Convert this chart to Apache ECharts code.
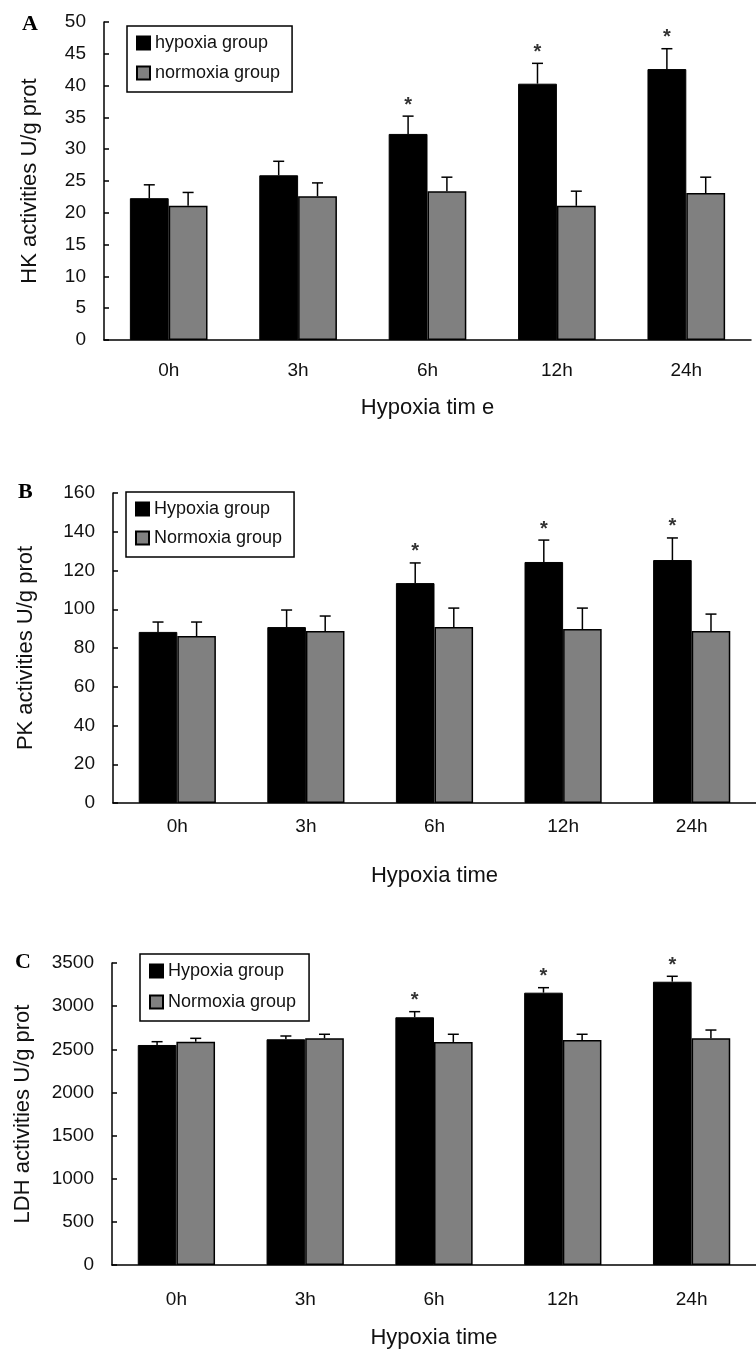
<!DOCTYPE html>
<html>
<head>
<meta charset="utf-8">
<script src="https://cdn.jsdelivr.net/npm/echarts@6/dist/echarts.min.js"></script>
<style>
html,body{margin:0;padding:0;background:#fff;}
#chart{width:756px;height:1353px;}
</style>
</head>
<body>
<div id="chart"></div>
<script>
// ---- data ----
var categories = ['0h', '3h', '6h', '12h', '24h'];
var significance = [0, 0, 1, 1, 1];

var hkHypoxia = [22.3, 25.9, 32.4, 40.3, 42.6];
var hkHypoxiaErr = [2.1, 2.2, 2.8, 3.2, 3.2];
var hkNormoxia = [21.1, 22.6, 23.4, 21.1, 23.1];
var hkNormoxiaErr = [2.1, 2.1, 2.2, 2.3, 2.5];

var pkHypoxia = [88.3, 90.8, 113.5, 124.4, 125.4];
var pkHypoxiaErr = [5.1, 8.8, 10.4, 11.3, 11.4];
var pkNormoxia = [86.2, 88.8, 90.8, 89.8, 88.8];
var pkNormoxiaErr = [7.2, 7.7, 9.8, 10.8, 8.7];

var ldhHypoxia = [2550, 2616, 2871, 3156, 3283];
var ldhHypoxiaErr = [38, 38, 65, 58, 63];
var ldhNormoxia = [2588, 2627, 2585, 2608, 2627];
var ldhNormoxiaErr = [39, 47, 89, 66, 96];

var yTicksA = {min: 0, max: 50, interval: 5};
var yTicksB = {min: 0, max: 160, interval: 20};
var yTicksC = {min: 0, max: 3500, interval: 500};

// ---- styling ----
var FONT = "'Liberation Sans', Arial, sans-serif";
var CAT_GAP = 0.40;

function errData(vals, errs, withSig) {
  return vals.map(function (v, i) { return [i, v, errs[i], withSig ? significance[i] : 0]; });
}

function errRender(sign) {
  return function (params, api) {
    var idx = api.value(0), v = api.value(1), e = api.value(2), sig = api.value(3);
    var band = api.size([1, 0])[0];
    var bw = band * (1 - CAT_GAP) / 2;
    var base = api.coord([idx, v]);
    var top = api.coord([idx, v + e]);
    var x = base[0] + sign * bw / 2;
    var children = [
      {type: 'line', shape: {x1: x, y1: base[1], x2: x, y2: top[1]}, style: {stroke: '#000', lineWidth: 1.5}},
      {type: 'line', shape: {x1: x - 5.5, y1: top[1], x2: x + 5.5, y2: top[1]}, style: {stroke: '#000', lineWidth: 1.5}}
    ];
    if (sig) {
      children.push({type: 'text', style: {text: '*', x: x, y: top[1] - 1, align: 'center', verticalAlign: 'bottom',
        font: 'bold 20px ' + FONT, fill: '#333'}});
    }
    return {type: 'group', children: children};
  };
}

function xAxisCfg(gridIndex, labelMargin, nameGap) {
  return {
    type: 'category', gridIndex: gridIndex, data: categories,
    name: gridIndex === 0 ? 'Hypoxia tim e' : 'Hypoxia time',
    nameLocation: 'middle', nameGap: nameGap,
    nameTextStyle: {fontSize: 22, color: '#111', fontFamily: FONT},
    axisLine: {lineStyle: {color: '#000', width: 1.5}},
    axisTick: {inside: true, length: 5, lineStyle: {color: '#000', width: 1.5}},
    axisLabel: {margin: labelMargin, fontSize: 19, color: '#111', fontFamily: FONT},
    splitLine: {show: false}
  };
}

function yAxisCfg(gridIndex, ticks, name, nameGap) {
  return {
    type: 'value', gridIndex: gridIndex, min: ticks.min, max: ticks.max, interval: ticks.interval,
    name: name, nameLocation: 'middle', nameGap: nameGap,
    nameTextStyle: {fontSize: 22, color: '#111', fontFamily: FONT},
    axisLine: {show: true, lineStyle: {color: '#000', width: 1.5}},
    axisTick: {show: true, inside: true, length: 5, lineStyle: {color: '#000', width: 1.5}},
    axisLabel: {margin: 18, fontSize: 19, color: '#111', fontFamily: FONT,
      formatter: function (v) { return String(v); }},
    splitLine: {show: false}
  };
}

function barSeries(name, gi, vals, hyp) {
  return {
    type: 'bar', name: name, xAxisIndex: gi, yAxisIndex: gi, data: vals,
    barGap: '0%', barCategoryGap: (CAT_GAP * 100) + '%',
    itemStyle: hyp ? {color: '#000', borderColor: '#000', borderWidth: 1}
                   : {color: '#808080', borderColor: '#000', borderWidth: 1.5},
    emphasis: {disabled: true}, animation: false
  };
}

function errSeries(gi, vals, errs, sign, withSig) {
  return {
    type: 'custom', xAxisIndex: gi, yAxisIndex: gi, data: errData(vals, errs, withSig),
    renderItem: errRender(sign), z: 5, silent: true, animation: false
  };
}

function legendCfg(names, left, top, padRight, gap) {
  return {
    data: names, orient: 'vertical', left: left, top: top,
    itemWidth: 13, itemHeight: 13, itemGap: gap, icon: 'rect',
    padding: [8, padRight, 10, 9], borderColor: '#000', borderWidth: 1.5, selectedMode: false,
    textStyle: {fontSize: 18, color: '#111', fontFamily: FONT}
  };
}

var option = {
  backgroundColor: '#fff',
  animation: false,
  grid: [
    {left: 104, top: 22, width: 647, height: 318},
    {left: 113, top: 493, width: 652, height: 310},
    {left: 112, top: 963, width: 648, height: 302}
  ],
  xAxis: [
    xAxisCfg(0, 21, 57),
    xAxisCfg(1, 14, 62),
    xAxisCfg(2, 25, 62)
  ],
  yAxis: [
    yAxisCfg(0, yTicksA, 'HK activities U/g prot', 63),
    yAxisCfg(1, yTicksB, 'PK activities U/g prot', 76),
    yAxisCfg(2, yTicksC, 'LDH activities U/g prot', 78)
  ],
  legend: [
    legendCfg(['hypoxia group', 'normoxia group'], 127, 26, 12, 12),
    legendCfg(['Hypoxia group', 'Normoxia group'], 126, 492, 12, 11),
    legendCfg(['Hypoxia group ', 'Normoxia group '], 140, 954, 8, 13)
  ],
  graphic: [
    {type: 'text', left: 22, top: 13, style: {text: 'A', font: 'bold 22px "Liberation Serif", "Times New Roman", serif', fill: '#000'}},
    {type: 'text', left: 18, top: 481, style: {text: 'B', font: 'bold 22px "Liberation Serif", "Times New Roman", serif', fill: '#000'}},
    {type: 'text', left: 15, top: 951, style: {text: 'C', font: 'bold 22px "Liberation Serif", "Times New Roman", serif', fill: '#000'}}
  ],
  series: [
    barSeries('hypoxia group', 0, hkHypoxia, true),
    barSeries('normoxia group', 0, hkNormoxia, false),
    errSeries(0, hkHypoxia, hkHypoxiaErr, -1, true),
    errSeries(0, hkNormoxia, hkNormoxiaErr, 1, false),

    barSeries('Hypoxia group', 1, pkHypoxia, true),
    barSeries('Normoxia group', 1, pkNormoxia, false),
    errSeries(1, pkHypoxia, pkHypoxiaErr, -1, true),
    errSeries(1, pkNormoxia, pkNormoxiaErr, 1, false),

    barSeries('Hypoxia group ', 2, ldhHypoxia, true),
    barSeries('Normoxia group ', 2, ldhNormoxia, false),
    errSeries(2, ldhHypoxia, ldhHypoxiaErr, -1, true),
    errSeries(2, ldhNormoxia, ldhNormoxiaErr, 1, false)
  ]
};

var chart = echarts.init(document.getElementById('chart'), null, {renderer: 'canvas'});
chart.setOption(option);
</script>
</body>
</html>
